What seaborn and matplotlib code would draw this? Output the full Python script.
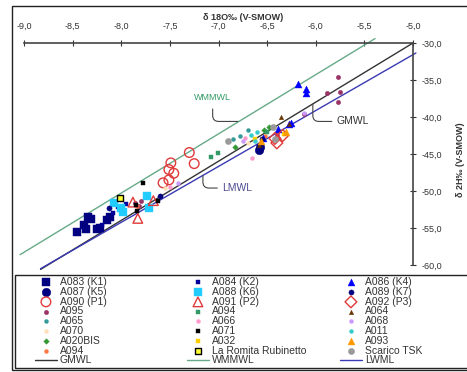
import matplotlib
matplotlib.use("Agg")
import matplotlib.pyplot as plt
import seaborn as sns
from matplotlib.patches import Rectangle
from matplotlib.ticker import FuncFormatter

# --- data (delta 18O, delta 2H) ---
a083_x = [-8.45, -8.38, -8.36, -8.34, -8.31, -8.25, -8.22, -8.15, -8.12]
a083_y = [-55.6, -54.6, -55.1, -53.5, -53.8, -55.2, -55.0, -53.9, -53.5]
a084_x = [-8.08, -8.03, -7.95, -8.20]
a084_y = [-53.0, -52.2, -51.8, -54.6]
a086_x = [-6.18, -6.10, -6.10, -6.25, -6.39, -6.54, -6.28]
a086_y = [-35.6, -36.2, -36.8, -40.8, -41.6, -42.9, -40.9]
a087_x = [-6.58, -6.57]
a087_y = [-44.5, -44.0]
a088_x = [-8.07, -8.00, -7.98, -7.74, -7.71]
a088_y = [-51.6, -52.3, -52.9, -50.7, -52.3]
a089_x = [-8.13, -7.60, -6.55]
a089_y = [-52.3, -50.7, -43.0]
a090_x = [-7.30, -7.25, -7.49, -7.51, -7.46, -7.57, -7.51]
a090_y = [-44.8, -46.3, -46.2, -47.1, -47.6, -48.9, -48.5]
a091_x = [-7.83, -7.88, -7.67]
a091_y = [-53.7, -51.5, -51.3]
a092_x = [-6.40, -6.34, -6.42]
a092_y = [-43.5, -42.5, -42.9]
a095_x = [-5.77, -5.88, -5.77, -5.75, -6.12, -7.86, -7.82, -7.80, -6.40]
a095_y = [-34.6, -36.7, -38.0, -36.6, -39.6, -51.6, -52.0, -51.3, -42.4]
a094_x = [-7.08, -7.01, -6.50]
a094_y = [-45.4, -44.9, -42.0]
a064_x = [-6.36, -6.28, -6.58]
a064_y = [-40.0, -41.0, -43.8]
a065_x = [-6.85, -6.78, -6.70]
a065_y = [-43.0, -42.5, -41.8]
a066_x = [-6.73, -6.66, -7.50]
a066_y = [-42.8, -45.5, -49.5]
a068_x = [-6.75, -7.42, -6.12]
a068_y = [-43.2, -48.9, -39.4]
a070_x = [-7.55, -6.70]
a070_y = [-49.6, -43.5]
a071_x = [-7.78, -7.85, -7.84, -7.62]
a071_y = [-48.9, -51.9, -52.7, -51.4]
a011_x = [-6.67, -6.60, -6.62]
a011_y = [-42.4, -42.0, -43.3]
a020bis_x = [-6.83, -6.53, -6.48]
a020bis_y = [-44.1, -41.7, -41.4]
a032_x = [-6.62, -6.33]
a032_y = [-43.0, -42.3]
a093_x = [-6.31, -6.56]
a093_y = [-42.0, -43.3]
a094b_x = [-7.84, -6.52]
a094b_y = [-52.0, -42.6]
romita_x = [-8.01]
romita_y = [-51.0]
tsk_x = [-6.44, -6.42, -6.90]
tsk_y = [-41.4, -43.0, -43.2]

# meteoric water lines (end points)
gmwl_x = [-8.83, -5.00]
gmwl_y = [-60.6, -30.0]
wmmwl_x = [-9.04, -5.39]
wmmwl_y = [-58.6, -29.4]
lmwl_x = [-8.83, -4.97]
lmwl_y = [-60.5, -31.35]

x_ticks = [-9.0, -8.5, -8.0, -7.5, -7.0, -6.5, -6.0, -5.5, -5.0]
y_ticks = [-60, -55, -50, -45, -40, -35, -30]

# label, x, y, marker, color, size, open marker
series = [
    ("A083 (K1)", a083_x, a083_y, "s", "#000080", 32, False),
    ("A087 (K5)", a087_x, a087_y, "o", "#000080", 38, False),
    ("A090 (P1)", a090_x, a090_y, "o", "#e03a3a", 48, True),
    ("A095", a095_x, a095_y, "o", "#993366", 10, False),
    ("A065", a065_x, a065_y, "o", "#339999", 8, False),
    ("A070", a070_x, a070_y, "o", "#ffe0b8", 8, False),
    ("A020BIS", a020bis_x, a020bis_y, "D", "#339933", 8, False),
    ("A094", a094b_x, a094b_y, "o", "#ff7744", 8, False),
    ("A084 (K2)", a084_x, a084_y, "s", "#000099", 12, False),
    ("A088 (K6)", a088_x, a088_y, "s", "#22ccff", 34, False),
    ("A091 (P2)", a091_x, a091_y, "^", "#e03a3a", 48, True),
    ("A094", a094_x, a094_y, "s", "#339966", 10, False),
    ("A066", a066_x, a066_y, "o", "#ff99cc", 8, False),
    ("A071", a071_x, a071_y, "s", "#000000", 10, False),
    ("A032", a032_x, a032_y, "s", "#ffcc00", 12, False),
    ("La Romita Rubinetto", romita_x, romita_y, "s", "#000000", 20, False),
    ("A086 (K4)", a086_x, a086_y, "^", "#0000ff", 25, False),
    ("A089 (K7)", a089_x, a089_y, "o", "#000080", 14, False),
    ("A092 (P3)", a092_x, a092_y, "D", "#e03a3a", 36, True),
    ("A064", a064_x, a064_y, "^", "#663300", 10, False),
    ("A068", a068_x, a068_y, "o", "#cc99ff", 8, False),
    ("A011", a011_x, a011_y, "o", "#33cccc", 8, False),
    ("A093", a093_x, a093_y, "^", "#ff9900", 25, False),
    ("Scarico TSK", tsk_x, tsk_y, "o", "#999999", 20, False),
]

sns.set_style("white")
plt.rcParams["font.family"] = ["Liberation Sans", "DejaVu Sans"]

fig = plt.figure(figsize=(4.67, 3.72), dpi=100)
ax = fig.add_axes([24 / 467, 1 - 265 / 372, 389 / 467, 222 / 372])

for label, xs, ys, mk, col, sz, hollow in series:
    sns.scatterplot(x=xs, y=ys, ax=ax, marker=mk, color=col, s=sz,
                    edgecolor=col, linewidth=1.0 if hollow else 0.3,
                    label=label, zorder=3)
    coll = ax.collections[-1]
    if hollow:
        coll.set_facecolor("none")
    if label == "La Romita Rubinetto":
        coll.set_facecolor("#ffff33")
        coll.set_edgecolor("#000000")
        coll.set_linewidth(1.0)

line_specs = [
    ("GMWL", gmwl_x, gmwl_y, "#333333"),
    ("WMMWL", wmmwl_x, wmmwl_y, "#66aa88"),
    ("LWML", lmwl_x, lmwl_y, "#3a3ab4"),
]
for label, xs, ys, col in line_specs:
    sns.lineplot(x=xs, y=ys, ax=ax, color=col, linewidth=1.0, label=label,
                 sort=False, zorder=2)
    ax.lines[-1].set_clip_on(False)

ax.set_xlim(-9, -5)
ax.set_ylim(-60, -30)

for side in ["bottom", "left"]:
    ax.spines[side].set_visible(False)
for side in ["top", "right"]:
    ax.spines[side].set_visible(True)
    ax.spines[side].set_color("#444444")
    ax.spines[side].set_linewidth(1.2)

ax.xaxis.tick_top()
ax.yaxis.tick_right()
ax.set_xticks(x_ticks)
ax.set_yticks(y_ticks)
comma = FuncFormatter(lambda v, p: f"{v:.1f}".replace(".", ","))
ax.xaxis.set_major_formatter(comma)
ax.yaxis.set_major_formatter(comma)
ax.tick_params(axis="x", direction="inout", length=4, width=0.8, pad=7,
               labelsize=6.5, colors="#333333")
ax.tick_params(axis="y", direction="inout", length=4, width=0.8, pad=4,
               labelsize=6.5, colors="#333333")

ax.set_xlabel("δ 18O‰ (V-SMOW)", fontsize=6.5, fontweight="bold", color="#333333")
ax.xaxis.set_label_position("top")
ax.xaxis.set_label_coords(0.563, 1.105)
ax.set_ylabel("δ 2H‰ (V-SMOW)", fontsize=6.5, fontweight="bold", color="#333333",
              rotation=90)
ax.yaxis.set_label_position("right")
ax.yaxis.set_label_coords(1.11, 0.475)

# line annotations
ax.annotate("WMMWL", xy=(-6.80, -40.6), xytext=(-7.06, -37.3), fontsize=6.5,
            color="#339966", ha="center", va="center",
            arrowprops=dict(arrowstyle="-", color="#444444", lw=0.8,
                            shrinkA=3, shrinkB=0,
                            connectionstyle="angle,angleA=-90,angleB=180,rad=6"))
ax.annotate("LMWL", xy=(-7.16, -47.9), xytext=(-6.81, -49.6), fontsize=7.5,
            color="#4a4a90", ha="center", va="center",
            arrowprops=dict(arrowstyle="-", color="#444444", lw=0.8,
                            shrinkA=1, shrinkB=0,
                            connectionstyle="angle,angleA=180,angleB=-90,rad=6"))
ax.annotate("GMWL", xy=(-6.03, -38.3), xytext=(-5.62, -40.6), fontsize=7.5,
            color="#333333", ha="center", va="center",
            arrowprops=dict(arrowstyle="-", color="#444444", lw=0.8,
                            shrinkA=1, shrinkB=0,
                            connectionstyle="angle,angleA=180,angleB=-90,rad=6"))

# legend: one column legend per column, rows as in the original
h, l = ax.get_legend_handles_labels()
pts_h, pts_l = h[:24], l[:24]
ln_h, ln_l = h[24:], l[24:]
col_left = [35, 187, 340]
for c in range(3):
    ch = pts_h[c * 8:(c + 1) * 8] + [ln_h[c]]
    cl = pts_l[c * 8:(c + 1) * 8] + [ln_l[c]]
    lg = fig.legend(ch, cl, loc="upper left",
                    bbox_to_anchor=(col_left[c] / 467, 1 - 277 / 372),
                    fontsize=7.5, labelspacing=-0.02, handlelength=2.1,
                    handletextpad=0.3, borderpad=0, borderaxespad=0,
                    frameon=False, markerscale=1.0)
    for t in lg.get_texts():
        t.set_color("#333333")
if ax.get_legend() is not None:
    ax.get_legend().remove()

# legend frame and outer chart border
fig.patches.append(Rectangle((15 / 467, 1 - 368 / 372), 460 / 467, 93 / 372,
                             transform=fig.transFigure, fill=False,
                             edgecolor="#222222", linewidth=1.0))
fig.patches.append(Rectangle((12 / 467, 2 / 372), 460 / 467, 364 / 372,
                             transform=fig.transFigure, fill=False,
                             edgecolor="#222222", linewidth=1.0))

fig.savefig("out.png", dpi=100)
